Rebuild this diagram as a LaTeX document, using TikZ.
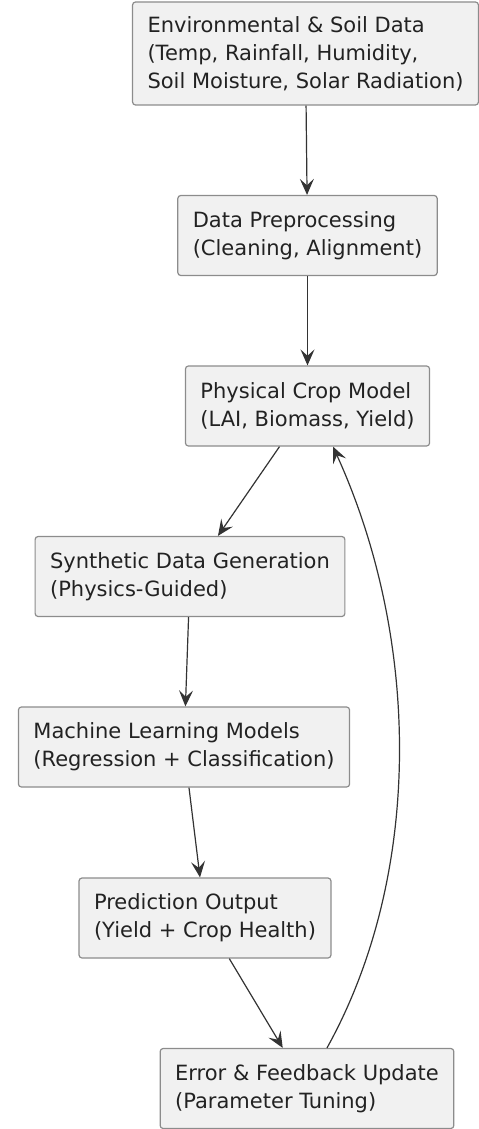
\documentclass[tikz,border=0pt]{standalone}
\usepackage{fontspec}
\setmainfont{DejaVu Sans}
\usetikzlibrary{arrows.meta}

\definecolor{boxfill}{HTML}{F1F1F1}
\definecolor{boxline}{HTML}{8C8C8C}
\definecolor{txt}{HTML}{222222}
\definecolor{edge}{HTML}{333333}

\tikzset{
  box/.style={draw=boxline, fill=boxfill, rounded corners=1.5pt, line width=0.6pt,
    align=left, inner xsep=7.5pt, text=txt, font=\fontsize{10.5}{14}\selectfont, minimum height=40pt},
  flow/.style={-{Stealth[length=8pt, width=7pt, inset=3.2pt]}, draw=edge, line width=0.6pt}
}

\begin{document}
\begin{tikzpicture}[x=0.5pt, y=-0.5pt]
    \useasboundingbox (0,0) rectangle (478,1129);

    % Boxes
    \node (env) [box,minimum height=51.5pt] at (305.5,53.5) {Environmental \& Soil Data\\(Temp, Rainfall, Humidity,\\Soil Moisture, Solar Radiation)};
    \node (prep) [box] at (307.5,235.5) {Data Preprocessing\\(Cleaning, Alignment)};
    \node (crop) [box] at (307.5,406) {Physical Crop Model\\(LAI, Biomass, Yield)};
    \node (synth) [box] at (190,576.5) {Synthetic Data Generation\\(Physics-Guided)};
    \node (ml) [box] at (184,747) {Machine Learning Models\\(Regression + Classification)};
    \node (pred) [box] at (205,918) {Prediction Output\\(Yield + Crop Health)};
    \node (err) [box] at (307,1088.5) {Error \& Feedback Update\\(Parameter Tuning)};

    % Arrows
    \draw[flow] (env) -- (prep);
    \draw[flow] (prep) -- (crop);
    \draw[flow] (crop) -- (synth);
    \draw[flow] (synth) -- (ml);
    \draw[flow] (ml) -- (pred);
    \draw[flow] (pred) -- (err);

    % feedback loop
    \draw[flow] ([xshift=10pt]err.north) .. controls (423,875) and (421,640) .. ([xshift=12.75pt]crop.south);
\end{tikzpicture}
\end{document}
